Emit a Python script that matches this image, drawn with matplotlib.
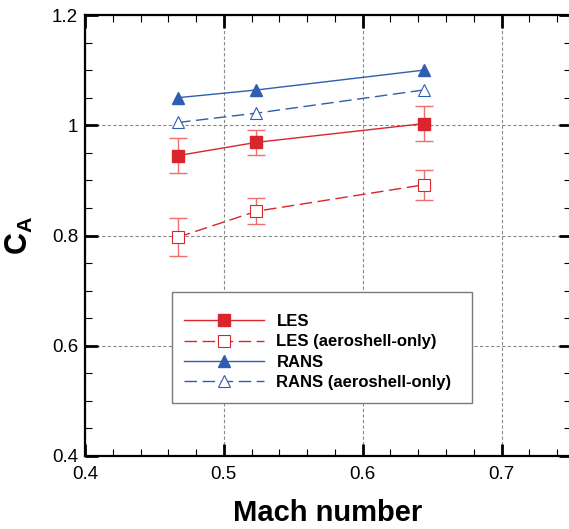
import matplotlib
matplotlib.use('Agg')
import matplotlib.pyplot as plt
from matplotlib.ticker import MultipleLocator, FormatStrFormatter
from matplotlib.patches import Rectangle

plt.rcParams['font.family'] = ['Liberation Sans', 'DejaVu Sans']
plt.rcParams['mathtext.fontset'] = 'custom'
plt.rcParams['mathtext.rm'] = 'Liberation Sans'
plt.rcParams['mathtext.bf'] = 'Liberation Sans:bold'

# dados
mach = [0.467, 0.5235, 0.644]
les = [0.945, 0.969, 1.003]
les_err = [0.032, 0.023, 0.032]
les_aero = [0.797, 0.844, 0.892]
les_aero_err = [0.034, 0.024, 0.027]
rans = [1.050, 1.064, 1.100]
rans_aero = [1.005, 1.022, 1.064]
labels = ['LES', 'LES (aeroshell-only)', 'RANS', 'RANS (aeroshell-only)']

red = '#d9252b'
red_err = '#ef6f6f'
blue = '#2f5db0'
dash = (0, (9, 4))

fig = plt.figure(figsize=(5.69, 5.29), dpi=100)
ax = fig.add_axes([85 / 569, 73 / 529, 486 / 569, 441 / 529])

# barras de erro
ax.errorbar(mach, les, yerr=les_err, fmt='none', ecolor=red_err, elinewidth=1,
            capsize=6.5, capthick=1, zorder=2)
ax.errorbar(mach, les_aero, yerr=les_aero_err, fmt='none', ecolor=red_err, elinewidth=1,
            capsize=6.5, capthick=1, zorder=2)

h1, = ax.plot(mach, les, '-', color=red, lw=1, marker='s', ms=8,
              mfc=red, mec=red, zorder=3)
h2, = ax.plot(mach, les_aero, linestyle=dash, color=red, lw=1, marker='s', ms=8,
              mfc='white', mec=red, mew=0.8, zorder=3)
h3, = ax.plot(mach, rans, '-', color=blue, lw=1, marker='^', ms=9,
              mfc=blue, mec=blue, zorder=3)
h4, = ax.plot(mach, rans_aero, linestyle=dash, color=blue, lw=1, marker='^', ms=9,
              mfc='white', mec=blue, mew=0.8, zorder=3)

ax.set_xlim(0.4, 0.75)
ax.set_ylim(0.4, 1.2)
ax.xaxis.set_major_locator(MultipleLocator(0.1))
ax.xaxis.set_minor_locator(MultipleLocator(0.02))
ax.yaxis.set_major_locator(MultipleLocator(0.2))
ax.yaxis.set_minor_locator(MultipleLocator(0.05))
ax.xaxis.set_major_formatter(FormatStrFormatter('%g'))
ax.yaxis.set_major_formatter(FormatStrFormatter('%g'))

ax.tick_params(which='both', direction='in', top=True, right=True, labelsize=13.5)
ax.tick_params(which='major', length=9, width=2)
ax.tick_params(which='minor', length=5, width=0.8)
ax.tick_params(axis='x', pad=7)
ax.tick_params(axis='y', pad=5)
for s in ax.spines.values():
    s.set_linewidth(1.6)

ax.grid(True, which='major', color='#8a8a8a', linestyle=(0, (3, 2)), lw=0.8)
ax.set_axisbelow(True)

ax.set_xlabel('Mach number', fontsize=21, fontweight='bold', labelpad=12)
ax.set_ylabel(r'$\mathbf{C}_\mathbf{A}$', fontsize=22, labelpad=12)

# moldura da legenda
ax.add_patch(Rectangle(((172 - 85) / 486, (456 - 403) / 441), 300 / 486, 111 / 441,
                       transform=ax.transAxes, facecolor='white', edgecolor='#7a7a7a',
                       lw=1, zorder=4))
leg = ax.legend([h1, h2, h3, h4], labels, loc='center left',
                bbox_to_anchor=((184 - 85) / 486, (456 - 352) / 441),
                frameon=False, prop={'weight': 'bold', 'size': 12},
                handlelength=4.8, handletextpad=0.75, labelspacing=0.32,
                borderpad=0, borderaxespad=0)
leg.set_zorder(5)

fig.savefig('out.png', dpi=100)
